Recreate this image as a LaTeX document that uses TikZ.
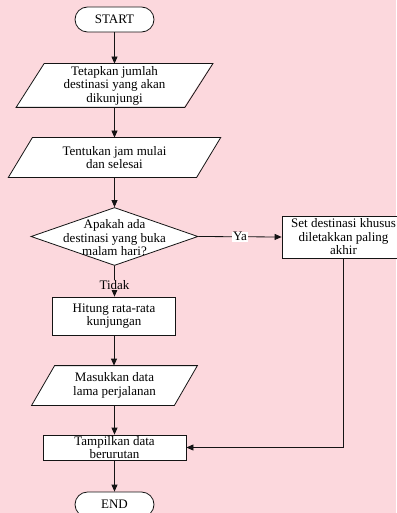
\documentclass[tikz,border=0pt]{standalone}
\usepackage{fontspec}
\setmainfont{Liberation Serif}
\usetikzlibrary{shapes.geometric,arrows.meta,calc}
\definecolor{bgpink}{RGB}{252,216,221}
\definecolor{ink}{RGB}{20,20,20}
\tikzset{
  base/.style={draw=ink, line width=0.8pt, fill=white, align=center, inner sep=0pt,
    font=\fontsize{13}{13.5}\selectfont},
  term/.style={base, rounded corners=12.5pt, minimum width=79pt, minimum height=25pt},
  procbox/.style={base, rectangle},
  iotext/.style={base, draw=none, fill=none, rectangle},
  decis/.style={base, diamond, aspect=2.9},
  arr/.style={draw=ink, line width=0.8pt, -{Triangle[length=7pt,width=6pt]}},
  lbl/.style={font=\fontsize{13}{13.5}\selectfont, inner sep=0.6pt}
}
\begin{document}
\begin{tikzpicture}[x=1pt,y=-1pt]
\fill[bgpink] (0,0) rectangle (396,513);
\useasboundingbox (0,0) rectangle (396,513);

\node[term] (start) at (114.5,19.5) {START};

% parallelogram 1
\fill[white] (43.75,64) -- (211.75,64) -- (183.75,107) -- (15.75,107) -- cycle;
\node[iotext, minimum width=168pt, minimum height=43pt] (p1) at (114.5,85.5)
  {Tetapkan jumlah\\destinasi yang akan\\dikunjungi};
\draw[draw=ink, line width=0.8pt] ([xshift=14pt]p1.north west) -- ([xshift=14pt]p1.north east)
  -- ([xshift=-14pt]p1.south east) -- ([xshift=-14pt]p1.south west) -- cycle;

% parallelogram 2
\node[iotext, minimum width=187.5pt, minimum height=39pt] (p2) at (114.5,157.5) {};
\fill[white] ([xshift=12pt]p2.north west) -- ([xshift=12pt]p2.north east)
  -- ([xshift=-12pt]p2.south east) -- ([xshift=-12pt]p2.south west) -- cycle;
\draw[draw=ink, line width=0.8pt] ([xshift=12pt]p2.north west) -- ([xshift=12pt]p2.north east)
  -- ([xshift=-12pt]p2.south east) -- ([xshift=-12pt]p2.south west) -- cycle;
\node[lbl, align=center] at (p2.center) {Tentukan jam mulai\\dan selesai};

\node[decis, minimum width=167pt, minimum height=58pt] (dec) at (114.5,236.5) {};
\node[lbl, align=center] at (114.5,238) {Apakah ada\\destinasi yang buka\\malam hari?};

\node[procbox, minimum width=123pt, minimum height=42pt] (set) at (343.5,237)
  {Set destinasi khusus\\diletakkan paling\\akhir};

\node[procbox, minimum width=123pt, minimum height=38pt] (hit) at (114,316)
  {Hitung rata-rata\\kunjungan};

% parallelogram 3
\node[iotext, minimum width=142pt, minimum height=39pt] (p3) at (114.5,385.5) {};
\fill[white] ([xshift=11.5pt]p3.north west) -- ([xshift=11.5pt]p3.north east)
  -- ([xshift=-11.5pt]p3.south east) -- ([xshift=-11.5pt]p3.south west) -- cycle;
\draw[draw=ink, line width=0.8pt] ([xshift=11.5pt]p3.north west) -- ([xshift=11.5pt]p3.north east)
  -- ([xshift=-11.5pt]p3.south east) -- ([xshift=-11.5pt]p3.south west) -- cycle;
\node[lbl, align=center] at (p3.center) {Masukkan data\\lama perjalanan};

\node[procbox, minimum width=143pt, minimum height=25pt] (tam) at (114.5,447.5)
  {Tampilkan data\\berurutan};

\node[term] (end) at (114.5,504.5) {END};

% connectors
\draw[arr] (start.south) -- (start.south |- p1.north);
\draw[arr] (p1.south) -- (p1.south |- p2.north);
\draw[arr] (p2.south) -- (p2.south |- dec.north);
\draw[arr] (dec.east) -- node[lbl, fill=white, pos=0.5] {Ya} (set.west);
\draw[arr] (dec.south) -- node[lbl, fill=bgpink, pos=0.62] {Tidak} (dec.south |- hit.north);
\draw[arr] (hit.south) -- (hit.south |- p3.north);
\draw[arr] (p3.south) -- (p3.south |- tam.north);
\draw[arr] (set.south) |- (tam.east);
\draw[arr] (tam.south) -- (tam.south |- end.north);
\end{tikzpicture}
\end{document}
